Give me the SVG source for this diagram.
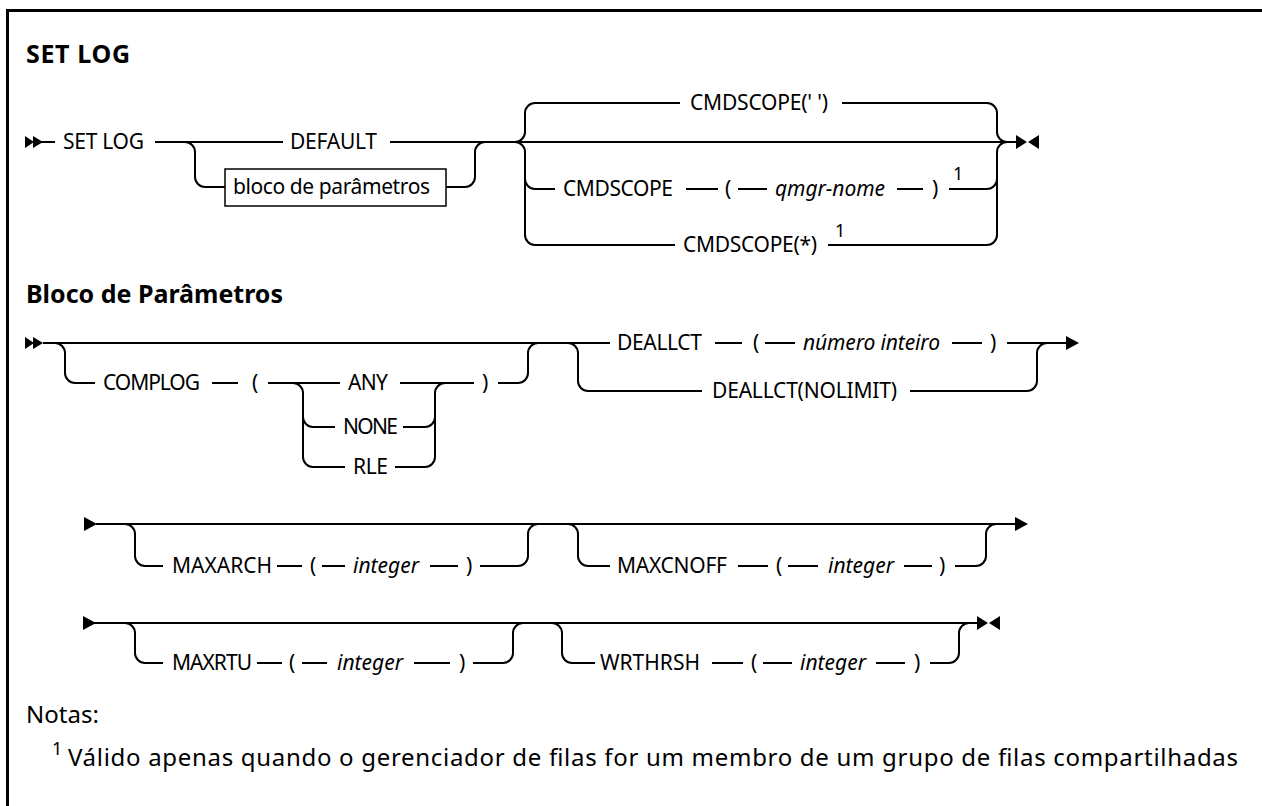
<svg xmlns="http://www.w3.org/2000/svg" width="1262" height="806" viewBox="0 0 1262 806">
<style>
text{font-family:"Noto Sans","Liberation Sans",sans-serif;font-size:21px;fill:#000}
.t{font-weight:bold;font-size:25px}
.i{font-style:italic}
.sup{font-size:18px}
.note{font-size:24px}
.ln{fill:none;stroke:#000;stroke-width:2}
.box{fill:#fff;stroke:#000;stroke-width:1.5}
.mk{fill:#000}
</style>
<rect width="1262" height="806" fill="#fff"/>
<path d="M7.5,806 V10.5 H1262" fill="none" stroke="#000" stroke-width="3"/>
<text class="t" x="26" y="63" textLength="104">SET LOG</text>
<text class="t" x="26" y="303" textLength="257">Bloco de Parâmetros</text>

<g id="connectors" class="ln">
<path d="M40,142 H55 M155,142 H283 M390,142 H1017"/>
<path d="M185,142 A10,10 0 0 1 195,152 V177 A10,10 0 0 0 205,187 H225"/>
<path d="M446,187 H465 A10,10 0 0 0 475,177 V152 A10,10 0 0 1 485,142"/>
<path d="M515,142 A10,10 0 0 0 525,132 V113 A10,10 0 0 1 535,103 H680 M842,103 H987 A10,10 0 0 1 997,113 V132 A10,10 0 0 0 1007,142"/>
<path d="M515,142 A10,10 0 0 1 525,152 V235 A10,10 0 0 0 535,245 H675 M828,245 H987 A10,10 0 0 0 997,235 V152 A10,10 0 0 1 1007,142"/>
<path d="M525,179 A10,10 0 0 0 535,189 H555 M686,189 H718 M738,189 H767 M897,189 H923 M949,189 H987 A10,10 0 0 0 997,179"/>
<path d="M43,343 H610 M715,343 H742 M765,343 H795 M952,343 H982 M1007,343 H1066"/>
<path d="M55,343 A10,10 0 0 1 65,353 V373 A10,10 0 0 0 75,383 H95 M212,383 H238 M268,383 H340 M400,383 H474 M498,383 H518 A10,10 0 0 0 528,373 V353 A10,10 0 0 1 538,343"/>
<path d="M293,383 A10,10 0 0 1 303,393 V457 A10,10 0 0 0 313,467 H345 M303,417 A10,10 0 0 0 313,427 H335 M403,427 H425 A10,10 0 0 0 435,417 M395,467 H425 A10,10 0 0 0 435,457 V393 A10,10 0 0 1 445,383"/>
<path d="M568,343 A10,10 0 0 1 578,353 V381 A10,10 0 0 0 588,391 H702 M910,391 H1027 A10,10 0 0 0 1037,381 V353 A10,10 0 0 1 1047,343"/>
<path d="M96,524 H1016"/>
<path d="M125,524 A10,10 0 0 1 135,534 V556 A10,10 0 0 0 145,566 H163 M277,566 H302 M322,566 H345 M430,566 H458 M480,566 H518 A10,10 0 0 0 528,556 V534 A10,10 0 0 1 538,524"/>
<path d="M568,524 A10,10 0 0 1 578,534 V556 A10,10 0 0 0 588,566 H610 M738,566 H768 M788,566 H818 M904,566 H932 M955,566 H976 A10,10 0 0 0 986,556 V534 A10,10 0 0 1 996,524"/>
<path d="M94,623 H979"/>
<path d="M125,623 A10,10 0 0 1 135,633 V653 A10,10 0 0 0 145,663 H163 M257,663 H282 M302,663 H327 M414,663 H450 M473,663 H503 A10,10 0 0 0 513,653 V633 A10,10 0 0 1 523,623"/>
<path d="M552,623 A10,10 0 0 1 562,633 V653 A10,10 0 0 0 572,663 H595 M712,663 H743 M763,663 H792 M876,663 H905 M930,663 H949 A10,10 0 0 0 959,653 V633 A10,10 0 0 1 969,623"/>
</g>

<g id="markers" class="mk">
<path d="M25,136 L34,142 L25,148 Z M33,136 L43,142 L33,148 Z"/>
<path d="M1016,135 L1027,142 L1016,149 Z M1039,135 L1028,142 L1039,149 Z"/>
<path d="M25,337 L34,343 L25,349 Z M33,337 L43,343 L33,349 Z"/>
<path d="M1066,336 L1079,343 L1066,350 Z"/>
<path d="M84,517 L97,524 L84,531 Z"/>
<path d="M1015,517 L1028,524 L1015,531 Z"/>
<path d="M83,616 L96,623 L83,630 Z"/>
<path d="M977,616 L988,623 L977,630 Z M1000,616 L989,623 L1000,630 Z"/>
</g>

<g id="set-log"><text x="63" y="149" textLength="81">SET LOG</text></g>
<g id="default"><text x="290" y="149" textLength="87">DEFAULT</text></g>
<g id="bloco"><rect class="box" x="225" y="169" width="221" height="37"/><text x="233" y="194" textLength="197">bloco de parâmetros</text></g>
<g id="cmdscope-blank"><text x="690" y="110" textLength="138">CMDSCOPE(' ')</text></g>
<g id="cmdscope-qmgr"><text x="563" y="196" textLength="110">CMDSCOPE</text><text x="725" y="196">(</text><text class="i" x="775" y="196" textLength="110">qmgr-nome</text><text x="932" y="196">)</text><text class="sup" x="953" y="180">1</text></g>
<g id="cmdscope-star"><text x="683" y="252" textLength="134">CMDSCOPE(*)</text><text class="sup" x="835" y="237">1</text></g>

<g id="complog"><text x="103" y="390" textLength="97">COMPLOG</text><text x="252" y="390">(</text><text x="482" y="390">)</text></g>
<g id="any"><text x="348" y="390" textLength="40">ANY</text></g>
<g id="none"><text x="343" y="434" textLength="55">NONE</text></g>
<g id="rle"><text x="353" y="474" textLength="35">RLE</text></g>
<g id="deallct"><text x="617" y="350" textLength="85">DEALLCT</text><text x="753" y="350">(</text><text class="i" x="803" y="350" textLength="137">número inteiro</text><text x="990" y="350">)</text></g>
<g id="deallct-nolimit"><text x="712" y="398" textLength="185">DEALLCT(NOLIMIT)</text></g>

<g id="maxarch"><text x="172" y="573" textLength="100">MAXARCH</text><text x="310" y="573">(</text><text class="i" x="353" y="573">integer</text><text x="466" y="573">)</text></g>
<g id="maxcnoff"><text x="617" y="573" textLength="110">MAXCNOFF</text><text x="776" y="573">(</text><text class="i" x="828" y="573">integer</text><text x="939" y="573">)</text></g>
<g id="maxrtu"><text x="172" y="670" textLength="80">MAXRTU</text><text x="289" y="670">(</text><text class="i" x="337" y="670">integer</text><text x="459" y="670">)</text></g>
<g id="wrthrsh"><text x="600" y="670" textLength="100">WRTHRSH</text><text x="751" y="670">(</text><text class="i" x="800" y="670">integer</text><text x="914" y="670">)</text></g>

<g id="notes">
<text class="note" x="26" y="723">Notas:</text>
<text class="sup" x="52" y="755">1</text>
<text class="note" x="68" y="766" textLength="1170">Válido apenas quando o gerenciador de filas for um membro de um grupo de filas compartilhadas</text>
</g>
</svg>
